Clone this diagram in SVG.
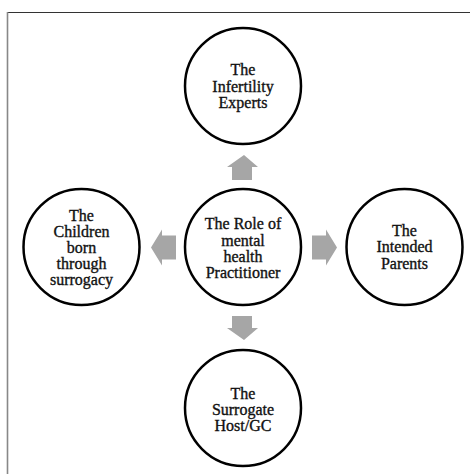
<svg xmlns="http://www.w3.org/2000/svg" width="471" height="474" viewBox="0 0 471 474">
<style>
.c{fill:#fff;stroke:#000;stroke-width:2.5}
.t{font-family:"Liberation Serif","Times New Roman",serif;font-size:16px;fill:#111;stroke:#111;stroke-width:0.35;text-anchor:middle}
.a{fill:#a6a6a6}
</style>
<rect width="471" height="474" fill="#fff"/>
<g id="frame">
<line x1="7" y1="12.5" x2="470" y2="12.5" stroke="#333" stroke-width="1.2"/>
<line x1="7.5" y1="12" x2="7.5" y2="474" stroke="#888" stroke-width="1.6"/>
</g>
<g id="connectors">
<polygon class="a" points="244,155 258,167 252,167 252,180 232,180 232,167 227,167"/>
<polygon class="a" points="244,340 258,328 252,328 252,316 232,316 232,328 227,328"/>
<polygon class="a" points="337,247.5 326,229.5 326,235.5 312,235.5 312,259.5 326,259.5 326,265.5"/>
<polygon class="a" points="151,247.5 162,229.5 162,235.5 176,235.5 176,259.5 162,259.5 162,265.5"/>
</g>
<g id="node-top">
<circle class="c" cx="243" cy="86" r="58"/>
<text class="t" x="243" y="75">The</text>
<text class="t" x="243" y="91.5">Infertility</text>
<text class="t" x="243" y="107.5">Experts</text>
</g>
<g id="node-center">
<circle class="c" cx="243" cy="247" r="58"/>
<text class="t" x="243" y="229">The Role of</text>
<text class="t" x="243" y="245.5">mental</text>
<text class="t" x="243" y="261.5">health</text>
<text class="t" x="243" y="277.5">Practitioner</text>
</g>
<g id="node-left">
<circle class="c" cx="81.5" cy="247" r="58"/>
<text class="t" x="81.5" y="221">The</text>
<text class="t" x="81.5" y="237">Children</text>
<text class="t" x="81.5" y="253">born</text>
<text class="t" x="81.5" y="268.5">through</text>
<text class="t" x="81.5" y="284.5">surrogacy</text>
</g>
<g id="node-right">
<circle class="c" cx="404.5" cy="247" r="58"/>
<text class="t" x="404.5" y="236">The</text>
<text class="t" x="404.5" y="252">Intended</text>
<text class="t" x="404.5" y="268.5">Parents</text>
</g>
<g id="node-bottom">
<circle class="c" cx="243" cy="408" r="58"/>
<text class="t" x="243" y="398.5">The</text>
<text class="t" x="243" y="415">Surrogate</text>
<text class="t" x="243" y="431">Host/GC</text>
</g>
</svg>
